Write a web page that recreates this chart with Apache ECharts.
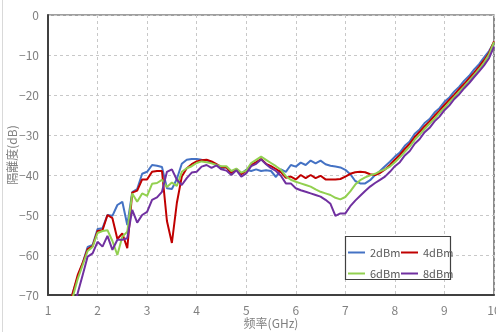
<!DOCTYPE html>
<html>
<head>
<meta charset="utf-8">
<script src="https://cdn.jsdelivr.net/npm/echarts@6/dist/echarts.min.js"></script>
<style>html,body{margin:0;padding:0;background:#fff;}#c{width:496px;height:332px;}</style>
</head>
<body>
<div id="c"></div>
<script>
const freq = [1.4,1.5,1.6,1.7,1.8,1.9,2.0,2.1,2.2,2.3,2.4,2.5,2.6,2.7,2.8,2.9,3.0,3.1,3.2,3.3,3.4,3.5,3.6,3.7,3.8,3.9,4.0,4.1,4.2,4.3,4.4,4.5,4.6,4.7,4.8,4.9,5.0,5.1,5.2,5.3,5.4,5.5,5.6,5.7,5.8,5.9,6.0,6.1,6.2,6.3,6.4,6.5,6.6,6.7,6.8,6.9,7.0,7.1,7.2,7.3,7.4,7.5,7.6,7.7,7.8,7.9,8.0,8.1,8.2,8.3,8.4,8.5,8.6,8.7,8.8,8.9,9.0,9.1,9.2,9.3,9.4,9.5,9.6,9.7,9.8,9.9,10.0];
const s2dBm = [-74,-69.5,-65.5,-62,-58,-57.5,-53.5,-53.3,-50,-50.2,
  -47.5,-46.7,-52.5,-44.3,-43.5,-39.7,-39.2,-37.5,-37.7,-38,
  -43.3,-43.5,-41,-37.2,-36.2,-36,-36,-36.2,-36.3,-36.8,
  -37.5,-38.4,-38.0,-39.5,-38.5,-39.7,-38.7,-39.0,-38.6,-39.0,
  -38.8,-39.0,-40.5,-38.6,-39.2,-37.5,-37.9,-36.9,-37.5,-36.4,
  -37.1,-36.4,-37.3,-37.7,-37.9,-38.1,-38.7,-39.8,-41.5,-42.1,
  -42.1,-41.3,-40.0,-39.0,-37.8,-36.7,-35.4,-34.4,-32.7,-31.6,
  -29.7,-28.6,-27.0,-26.0,-24.4,-23.3,-21.7,-20.6,-19.1,-17.9,
  -16.4,-15.2,-13.6,-12.3,-10.6,-9.0,-6.9];
const s4dBm = [-74,-69.5,-65,-62,-58.5,-57.8,-54,-53.8,-50,-50.8,
  -56,-54.6,-58.3,-44.4,-43.9,-41.1,-41.1,-39.2,-39,-39,
  -51.5,-57,-47,-40.4,-38.3,-37.3,-36.6,-36.3,-36.2,-36.6,
  -37.3,-38.0,-38.1,-39.5,-38.6,-39.8,-39.0,-37.5,-36.8,-36.0,
  -37.2,-37.8,-38.5,-39.3,-40.7,-40.4,-41.1,-40.0,-40.8,-40.0,
  -40.8,-40.2,-41.1,-41.1,-41.1,-41.0,-40.4,-39.7,-39.3,-39.2,
  -39.3,-39.8,-40.0,-39.5,-38.6,-37.5,-36.2,-35.0,-33.5,-32.2,
  -30.5,-29.2,-27.8,-26.6,-25.2,-23.9,-22.5,-21.2,-19.9,-18.5,
  -17.2,-15.8,-14.4,-12.9,-11.3,-9.5,-6.6];
const s6dBm = [-75,-70.5,-66,-62.5,-59,-58,-54.5,-54,-53.8,-56.5,
  -60,-55.4,-54.2,-44.6,-46.7,-44.6,-45.2,-42.2,-42,-41.2,
  -43,-41.9,-42.7,-39.2,-38.3,-37.8,-37,-36.6,-36.8,-37.1,
  -37.5,-37.8,-37.8,-39.0,-38.4,-39.4,-38.9,-37.0,-36.2,-35.4,
  -36.2,-37.0,-37.8,-38.7,-40.3,-41.2,-41.7,-42.1,-42.5,-42.9,
  -43.6,-44.2,-44.6,-45.0,-45.7,-46.1,-45.5,-44.1,-42.4,-41.3,
  -40.6,-40.1,-39.7,-39.1,-38.6,-37.9,-36.8,-35.6,-34.2,-32.9,
  -31.2,-29.9,-28.5,-27.2,-25.9,-24.5,-23.2,-21.8,-20.5,-19.1,
  -17.8,-16.4,-15.0,-13.5,-11.9,-9.9,-6.8];
const s8dBm = [-78,-74,-69.5,-65,-60.4,-59.6,-56.7,-57.9,-55.2,-58.7,
  -56.2,-56.2,-55.8,-48.7,-51.9,-50,-49.2,-46.2,-45.6,-44.2,
  -39.2,-38.6,-41.2,-42.5,-40.8,-39.4,-39.2,-37.9,-37.5,-38.2,
  -37.6,-38.6,-38.9,-40.0,-38.8,-40.4,-39.6,-37.8,-37.2,-36.1,
  -37.3,-38.3,-39.0,-40.2,-42.1,-42.1,-43.3,-43.8,-44.2,-44.6,
  -45.0,-45.4,-46.2,-47.2,-50.2,-49.6,-49.6,-47.8,-46.4,-45.2,
  -44.0,-42.9,-42.0,-41.2,-40.4,-39.2,-37.8,-36.8,-35.1,-34.0,
  -32.2,-31.0,-29.3,-28.2,-26.6,-25.4,-23.8,-22.6,-21.0,-19.8,
  -18.3,-17.0,-15.5,-14.1,-12.6,-10.8,-7.9];
const seriesNames = ['2dBm','4dBm','6dBm','8dBm'];
const seriesValues = [s2dBm, s4dBm, s6dBm, s8dBm];
const colors = ['#4472C4','#C00000','#92D050','#7030A0'];
const xTicks = [1,10,1];   // min, max, interval
const yTicks = [-70,0,10]; // min, max, interval

const font = '"Noto Sans CJK JP", "Noto Sans", sans-serif';
const chart = echarts.init(document.getElementById('c'), null, {renderer:'canvas'});
const legendPos = [[348,247],[401,247],[348,268],[401,268]];
chart.setOption({
  backgroundColor:'#fff',
  animation:false,
  textStyle:{fontFamily:font},
  grid:{left:48,right:2,top:15,bottom:37,containLabel:false,outerBoundsMode:'none',
    show:true,borderColor:'#404040',borderWidth:1.2,backgroundColor:'transparent'},
  graphic:[
    {type:'line',shape:{x1:2.5,y1:0,x2:2.5,y2:332},style:{stroke:'#d9d9d9',lineWidth:1},silent:true},
    {type:'rect',shape:{x:345.5,y:236.5,width:105,height:43},style:{fill:'#fff',stroke:'#404040',lineWidth:1.2},z:10,silent:true}
  ],
  legend: seriesNames.map((n,i)=>({
    data:[n], left:legendPos[i][0], top:legendPos[i][1], padding:0,
    icon:'rect', itemWidth:17, itemHeight:2, z:20,
    textStyle:{fontFamily:font,fontSize:11,color:'#595959'}
  })),
  xAxis:{
    type:'value', min:xTicks[0], max:xTicks[1], interval:xTicks[2],
    name:'频率(GHz)', nameLocation:'middle', nameGap:22, nameMoveOverlap:false,
    nameTextStyle:{fontFamily:font,fontSize:12,color:'#808080',verticalAlign:'top'},
    axisLine:{show:true,onZero:false,lineStyle:{color:'#404040',width:2}},
    axisTick:{show:false},
    axisLabel:{color:'#808080',fontSize:12,fontFamily:font,margin:9},
    splitLine:{show:true,lineStyle:{color:'#c8c8c8',type:[3,3],width:1}}
  },
  yAxis:{
    type:'value', min:yTicks[0], max:yTicks[1], interval:yTicks[2],
    name:'隔離度(dB)', nameLocation:'middle', nameGap:30, nameMoveOverlap:false,
    nameTextStyle:{fontFamily:font,fontSize:12,color:'#808080'},
    axisLine:{show:true,onZero:false,lineStyle:{color:'#404040',width:2}},
    axisTick:{show:false},
    axisLabel:{color:'#808080',fontSize:12,fontFamily:font,margin:9,
      formatter:v=>String(v).replace('-','\u2212')},
    splitLine:{show:true,lineStyle:{color:'#c8c8c8',type:[3,3],width:1}}
  },
  series: seriesNames.map((n,i)=>({
    name:n, type:'line', symbol:'none', smooth:false, clip:true,
    data: freq.map((f,j)=>[f, seriesValues[i][j]]),
    lineStyle:{color:colors[i],width:2},
    itemStyle:{color:colors[i]}
  }))
});
</script>
</body>
</html>
